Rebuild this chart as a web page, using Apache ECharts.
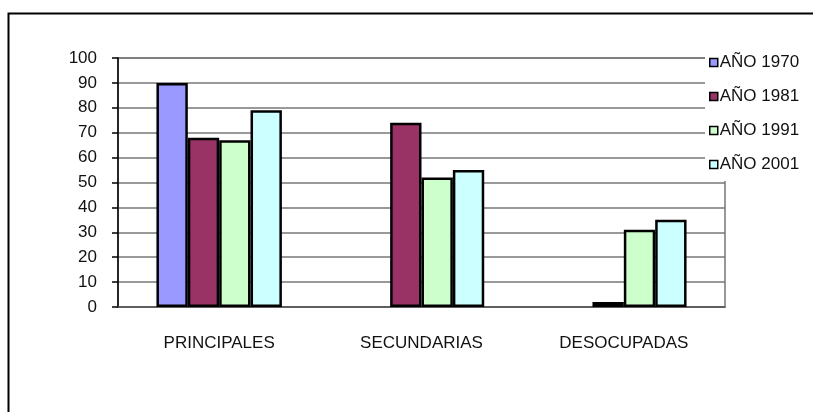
<!DOCTYPE html>
<html><head><meta charset="utf-8">
<script src="https://cdn.jsdelivr.net/npm/echarts@6/dist/echarts.min.js"></script>
<style>html,body{margin:0;padding:0;background:#fff}#c{width:813px;height:412px}</style>
</head><body><div id="c"></div>
<script>
const categories = ['PRINCIPALES', 'SECUNDARIAS', 'DESOCUPADAS'];
const seriesNames = ['AÑO 1970', 'AÑO 1981', 'AÑO 1991', 'AÑO 2001'];
const v1970 = [90, null, null];
const v1981 = [68, 74, 2];
const v1991 = [67, 52, 31];
const v2001 = [79, 55, 35];
const yTicks = [0, 10, 20, 30, 40, 50, 60, 70, 80, 90, 100];
const colors = ['#9999FF', '#993366', '#CCFFCC', '#CCFFFF'];
const values = [v1970, v1981, v1991, v2001];

const chart = echarts.init(document.getElementById('c'), null, {renderer: 'canvas'});
const font = 'Arial, "Liberation Sans", sans-serif';
chart.setOption({
  animation: false,
  backgroundColor: '#fff',
  color: colors,
  graphic: [{
    type: 'rect', left: 6, top: 11, z: 100,
    shape: {x: 0, y: 0, width: 1000, height: 1000},
    style: {fill: 'none', stroke: '#000', lineWidth: 2}
  }],
  grid: {left: 118, right: 88, top: 58, bottom: 105, show: true, borderColor: '#777', borderWidth: 1.5, backgroundColor: 'transparent'},
  legend: {
    orient: 'vertical', left: 705, top: 45,
    padding: [9, 10, 8, 4],
    backgroundColor: '#fff',
    itemWidth: 8, itemHeight: 8, itemGap: 17,
    icon: 'rect',
    itemStyle: {borderColor: '#000', borderWidth: 1.5},
    textStyle: {fontFamily: font, fontSize: 17, color: '#111', padding: [0, 0, 0, -3]},
    data: seriesNames
  },
  xAxis: {
    type: 'category', data: categories,
    axisLine: {lineStyle: {color: '#555', width: 1.5}},
    axisTick: {show: false},
    axisLabel: {fontFamily: font, fontSize: 17, color: '#111', margin: 28}
  },
  yAxis: {
    type: 'value', min: 0, max: 100, interval: 10,
    axisLine: {show: true, lineStyle: {color: '#000', width: 1.5}},
    axisTick: {show: true, length: 6, lineStyle: {color: '#000', width: 1.5}},
    axisLabel: {fontFamily: font, fontSize: 17, color: '#111', margin: 21,
      formatter: v => yTicks.includes(v) ? String(v) : ''},
    splitLine: {show: true, lineStyle: {color: '#777', width: 1.5}}
  },
  series: seriesNames.map((n, i) => ({
    name: n, type: 'bar', data: values[i],
    barGap: '0%', barCategoryGap: '38%',
    itemStyle: {color: colors[i], borderColor: '#000', borderWidth: 2.5}
  }))
});
</script></body></html>
